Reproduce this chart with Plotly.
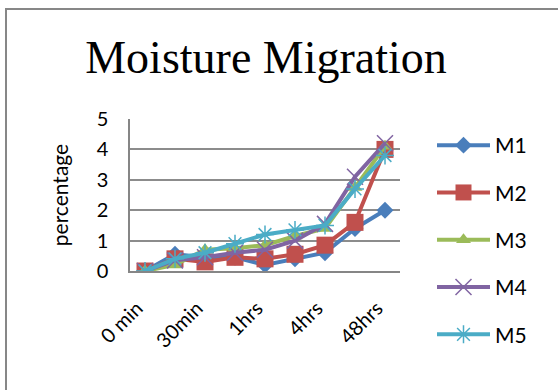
import plotly.graph_objects as go

# Sampling times (only every other one is labelled on the axis)
times = ["0 min", "15min", "30min", "45min", "1hrs", "2hrs", "4hrs", "24hrs", "48hrs"]
shown_ticks = ["0 min", "30min", "1hrs", "4hrs", "48hrs"]

# Moisture migration (percentage) per mix
m1 = [0.0, 0.55, 0.45, 0.45, 0.2, 0.4, 0.6, 1.4, 2.0]
m2 = [0.0, 0.4, 0.3, 0.45, 0.4, 0.55, 0.85, 1.6, 4.0]
m3 = [0.0, 0.2, 0.7, 0.75, 0.85, 1.15, 1.4, 2.75, 4.1]
m4 = [0.0, 0.35, 0.45, 0.6, 0.7, 1.0, 1.55, 3.1, 4.2]
m5 = [0.0, 0.4, 0.6, 0.9, 1.2, 1.35, 1.5, 2.7, 3.8]

series = [
    ("M1", m1, "#4A7EBB", "diamond", 13),
    ("M2", m2, "#C0504D", "square", 17),
    ("M3", m3, "#9BBB59", "triangle-up", 13),
    ("M4", m4, "#8064A2", "x-thin-open", 16),
    ("M5", m5, "#4BACC6", "asterisk-open", 15),
]

W, H = 558, 390
L, R, T, B = 130, 400, 119, 271  # plot area in pixels
FONT = "Lato, Liberation Sans, Arial, sans-serif"

fig = go.Figure()
for i, (name, vals, color, symbol, size) in enumerate(series):
    open_sym = symbol.endswith("open")
    fig.add_trace(go.Scatter(
        x=times, y=vals, name=name, mode="lines+markers",
        legendgroup=name,
        line=dict(color=color, width=4),
        marker=dict(symbol=symbol, size=size, color=color,
                    line=dict(color=color, width=1.5 if open_sym else 0)),
    ))

def px_x(p):
    return (p - L) / (R - L)

def px_y(p):
    return (B - p) / (B - T)

fig.update_layout(
    width=W, height=H,
    margin=dict(l=L, r=W - R, t=T, b=H - B),
    paper_bgcolor="white", plot_bgcolor="white",
    font=dict(family=FONT, color="black"),
    title=dict(
        text="Moisture Migration",
        font=dict(family="Liberation Serif, Times New Roman, serif", size=46, color="black"),
        x=266 / W, xanchor="center", xref="container",
        y=1 - 57 / H, yanchor="middle", yref="container",
    ),
    xaxis=dict(
        type="category", categoryorder="array", categoryarray=times,
        tickmode="array", tickvals=shown_ticks, ticktext=shown_ticks,
        tickangle=-45, tickfont=dict(size=20, family=FONT),
        showgrid=False, showline=True, linecolor="#868686", linewidth=1.5,
        ticks="", range=[-0.5, 8.5], ticklabelstandoff=16, ticklabelshift=-8,
    ),
    yaxis=dict(
        range=[0, 5], dtick=1, showgrid=True, gridcolor="#8c8c8c", gridwidth=1.5,
        showline=True, linecolor="#868686", linewidth=1.5, zeroline=False,
        tickfont=dict(size=20), ticks="", ticklabelstandoff=16,
        title=dict(text="percentage", font=dict(size=21), standoff=22),
    ),
    legend=dict(
        x=px_x(432), xanchor="left", y=px_y(125), yanchor="top",
        font=dict(size=21), itemwidth=53, tracegroupgap=17,
        bgcolor="rgba(0,0,0,0)", maxheight=300,
    ),
    showlegend=True,
)

# Outer chart border
fig.add_shape(
    type="rect", xref="paper", yref="paper",
    x0=px_x(6), x1=px_x(575), y0=px_y(405), y1=px_y(9),
    line=dict(color="#878787", width=2), fillcolor="rgba(0,0,0,0)", layer="below",
)

fig.write_html("out.html")
